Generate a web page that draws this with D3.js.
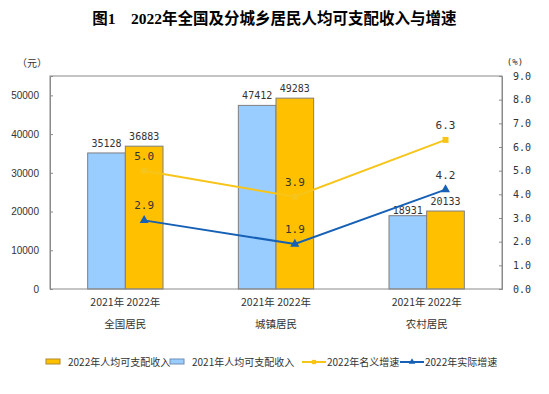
<!DOCTYPE html>
<html>
<head>
<meta charset="utf-8">
<script src="https://cdn.jsdelivr.net/npm/d3@7"></script>
<style>
  body { margin: 0; background: #fff; }
  svg { display: block; }
</style>
</head>
<body>
<div class="graph"><svg></svg></div>
<script>
// chart data
const categories = ['全国居民', '城镇居民', '农村居民']
const years = ['2021年', '2022年']
const income2021 = [35128, 47412, 18931]
const income2022 = [36883, 49283, 20133]
const nominalGrowth = [5.0, 3.9, 6.3]
const realGrowth = [2.9, 1.9, 4.2]
const leftTicks = [0, 10000, 20000, 30000, 40000, 50000]
const rightTicks = [0, 1, 2, 3, 4, 5, 6, 7, 8, 9]

const width = 549
const height = 394
const margin = { top: 76, right: 47, bottom: 105, left: 50 }

const CJK = '"Noto Sans CJK SC", sans-serif'
const MONO = '"DejaVu Sans Mono", monospace'
const BLUE_BAR = '#99CCFF'
const ORANGE_BAR = '#FFC000'
const YELLOW_LINE = '#F7C51A'
const BLUE_LINE = '#1660B5'
const AXIS = '#8A8A8A'

const svg = d3.select('.graph').select('svg')
  .attr('width', width)
  .attr('height', height)

svg.append('text')
  .text('图1　2022年全国及分城乡居民人均可支配收入与增速')
  .attr('x', width / 2)
  .attr('y', 24)
  .attr('text-anchor', 'middle')
  .attr('font-family', '"Liberation Serif", "Noto Sans CJK SC", serif')
  .attr('font-weight', 'bold')
  .attr('font-size', 15.5)
  .attr('fill', '#000')

const x0 = margin.left
const x1 = width - margin.right
const yBottom = height - margin.bottom

const x = d3.scaleBand()
  .domain(categories)
  .range([x0, x1])
  .paddingInner(0)
  .paddingOuter(0)

const xSub = d3.scaleBand()
  .domain(years)
  .range([0, x.bandwidth()])
  .paddingInner(0)
  .paddingOuter(1)

const yLeft = d3.scaleLinear().domain([0, 55000]).range([yBottom, margin.top])
const yRight = d3.scaleLinear().domain([0, 9]).range([yBottom, margin.top])

const g = svg.append('g')

// bars
const series = [
  { key: '2021年', values: income2021, fill: BLUE_BAR },
  { key: '2022年', values: income2022, fill: ORANGE_BAR }
]

series.forEach((s) => {
  g.selectAll(null)
    .data(categories)
    .enter()
    .append('rect')
    .attr('x', (d) => x(d) + xSub(s.key))
    .attr('y', (d, i) => yLeft(s.values[i]))
    .attr('width', xSub.bandwidth())
    .attr('height', (d, i) => yBottom - yLeft(s.values[i]))
    .attr('fill', s.fill)
    .attr('stroke', '#7F7F7F')
    .attr('stroke-width', 1)

  g.selectAll(null)
    .data(categories)
    .enter()
    .append('text')
    .text((d, i) => s.values[i])
    .attr('x', (d) => x(d) + xSub(s.key) + xSub.bandwidth() / 2)
    .attr('y', (d, i) => yLeft(s.values[i]) - (s.values[i] === 18931 ? 2 : 6))
    .attr('text-anchor', 'middle')
    .attr('font-family', MONO)
    .attr('font-size', 10)
    .attr('fill', '#333')
})

// frame
g.append('rect')
  .attr('x', x0)
  .attr('y', margin.top)
  .attr('width', x1 - x0)
  .attr('height', yBottom - margin.top)
  .attr('fill', 'none')
  .attr('stroke', AXIS)
  .attr('stroke-width', 1)

// left axis
const leftAxis = d3.axisLeft(yLeft).tickValues(leftTicks).tickSize(-3).tickPadding(11)
  .tickFormat(d3.format('d'))
g.append('g')
  .attr('transform', `translate(${x0},0)`)
  .call(leftAxis)
  .call((a) => a.select('.domain').attr('stroke', AXIS))
  .call((a) => a.selectAll('line').attr('stroke', AXIS))
  .call((a) => a.selectAll('text')
    .attr('font-family', '"Liberation Sans", sans-serif')
    .attr('font-size', 10)
    .attr('fill', '#333'))

// right axis
const rightAxis = d3.axisRight(yRight).tickValues(rightTicks).tickSize(-3).tickPadding(11)
  .tickFormat(d3.format('.1f'))
g.append('g')
  .attr('transform', `translate(${x1},0)`)
  .call(rightAxis)
  .call((a) => a.select('.domain').attr('stroke', AXIS))
  .call((a) => a.selectAll('line').attr('stroke', AXIS))
  .call((a) => a.selectAll('text')
    .attr('font-family', MONO)
    .attr('font-size', 10)
    .attr('fill', '#333'))

svg.append('text').text('（元）')
  .attr('x', 32).attr('y', 67)
  .attr('text-anchor', 'middle')
  .attr('font-family', CJK).attr('font-size', 10).attr('fill', '#333')

svg.append('text').text('(%)')
  .attr('x', 515).attr('y', 65)
  .attr('text-anchor', 'middle')
  .attr('font-family', MONO).attr('font-size', 9).attr('fill', '#333')

// x labels
g.selectAll(null)
  .data(categories)
  .enter()
  .append('text')
  .text(years.join(' '))
  .attr('x', (d) => x(d) + x.bandwidth() / 2)
  .attr('y', yBottom + 17)
  .attr('text-anchor', 'middle')
  .attr('font-family', CJK)
  .attr('font-size', 10.5)
  .attr('fill', '#333')

g.selectAll(null)
  .data(categories)
  .enter()
  .append('text')
  .text((d) => d)
  .attr('x', (d) => x(d) + x.bandwidth() / 2)
  .attr('y', yBottom + 39)
  .attr('text-anchor', 'middle')
  .attr('font-family', CJK)
  .attr('font-size', 10.5)
  .attr('fill', '#333')

// growth lines, anchored on the 2022 bar
const px = (d) => x(d) + xSub('2022年') + xSub.bandwidth() / 2
const lines = [
  { values: nominalGrowth, color: YELLOW_LINE, marker: d3.symbolSquare },
  { values: realGrowth, color: BLUE_LINE, marker: d3.symbolTriangle }
]

lines.forEach((l) => {
  const line = d3.line()
    .x((d) => px(d))
    .y((d, i) => yRight(l.values[i]))
  g.append('path')
    .datum(categories)
    .attr('d', line)
    .attr('fill', 'none')
    .attr('stroke', l.color)
    .attr('stroke-width', 2)

  g.selectAll(null)
    .data(categories)
    .enter()
    .append('path')
    .attr('d', d3.symbol().type(l.marker).size(36))
    .attr('transform', (d, i) => `translate(${px(d)},${yRight(l.values[i])})`)
    .attr('fill', l.color)

  g.selectAll(null)
    .data(categories)
    .enter()
    .append('text')
    .text((d, i) => l.values[i].toFixed(1))
    .attr('x', (d) => px(d))
    .attr('y', (d, i) => yRight(l.values[i]) - 11)
    .attr('text-anchor', 'middle')
    .attr('font-family', MONO)
    .attr('font-size', 11)
    .attr('fill', '#333')
})

// legend
const legend = svg.append('g').attr('transform', 'translate(0,362)')
const legendItems = [
  { label: '2022年人均可支配收入', type: 'bar', color: ORANGE_BAR, stroke: '#B08A2A', x: 46, tx: 68 },
  { label: '2021年人均可支配收入', type: 'bar', color: BLUE_BAR, stroke: '#6E8FB8', x: 170, tx: 192 },
  { label: '2022年名义增速', type: 'line', color: YELLOW_LINE, marker: d3.symbolSquare, x: 302, tx: 327 },
  { label: '2022年实际增速', type: 'line', color: BLUE_LINE, marker: d3.symbolTriangle, x: 400, tx: 425 }
]

legendItems.forEach((it) => {
  if (it.type === 'bar') {
    legend.append('rect')
      .attr('x', it.x).attr('y', -3)
      .attr('width', 14).attr('height', 5)
      .attr('fill', it.color).attr('stroke', it.stroke)
  } else {
    legend.append('line')
      .attr('x1', it.x).attr('x2', it.x + 24)
      .attr('y1', 0).attr('y2', 0)
      .attr('stroke', it.color).attr('stroke-width', 2)
    legend.append('path')
      .attr('d', d3.symbol().type(it.marker).size(18))
      .attr('transform', `translate(${it.x + 12},0)`)
      .attr('fill', it.color)
  }
  legend.append('text')
    .text(it.label)
    .attr('x', it.tx).attr('y', 4)
    .attr('font-family', CJK)
    .attr('font-size', 10)
    .attr('fill', '#333')
})
</script>
</body>
</html>
